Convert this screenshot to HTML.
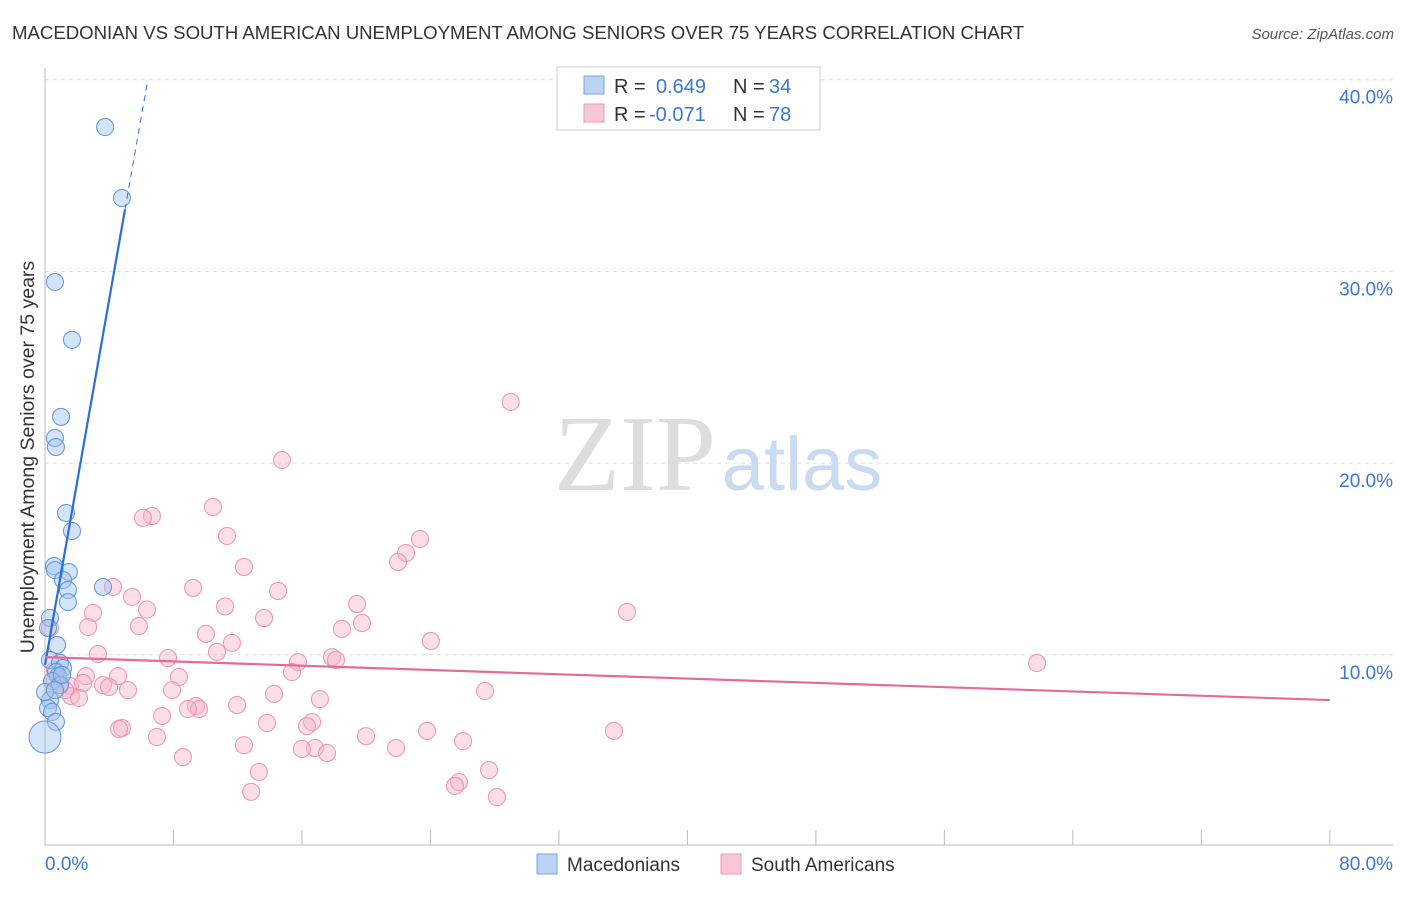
<!DOCTYPE html>
<html><head><meta charset="utf-8"><style>
body{margin:0;background:#fff;font-family:"Liberation Sans",sans-serif}
</style></head><body>
<svg width="1406" height="892" xmlns="http://www.w3.org/2000/svg">
<text x="12" y="39" font-size="18.6" fill="#333">MACEDONIAN VS SOUTH AMERICAN UNEMPLOYMENT AMONG SENIORS OVER 75 YEARS CORRELATION CHART</text>
<text x="1394" y="39" font-size="15" fill="#555" font-style="italic" text-anchor="end">Source: ZipAtlas.com</text>
<text transform="translate(34,457) rotate(-90)" font-size="19.5" fill="#333" text-anchor="middle">Unemployment Among Seniors over 75 years</text>
<g>
<text x="635" y="490" font-size="108" font-family="Liberation Serif,serif" fill="#ddd" text-anchor="middle">ZIP</text>
<text x="802" y="490" font-size="76" fill="#c9dbf2" text-anchor="middle">atlas</text>
</g>
<g id="grid"></g><g id="axes"></g><g id="marks"></g>
<g>
<rect x="557" y="67" width="263" height="63" fill="#fff" stroke="#ccc"/>
<rect x="584" y="76" width="20" height="18" fill="#b9d3f5" stroke="#7aa6e0"/>
<rect x="584" y="104" width="20" height="18" fill="#f9c6d6" stroke="#ea9ab4"/>
<text x="614" y="93" font-size="20" fill="#333">R =</text>
<text x="656" y="93" font-size="20" fill="#3a78d4">0.649</text>
<text x="733" y="93" font-size="20" fill="#333">N =</text>
<text x="769" y="93" font-size="20" fill="#3a78d4">34</text>
<text x="614" y="121" font-size="20" fill="#333">R =</text>
<text x="649" y="121" font-size="20" fill="#3a78d4">-0.071</text>
<text x="733" y="121" font-size="20" fill="#333">N =</text>
<text x="769" y="121" font-size="20" fill="#3a78d4">78</text>
</g>
<g>
<rect x="537" y="854" width="20" height="20" fill="#b9d3f5" stroke="#7aa6e0"/>
<text x="567" y="871" font-size="19" fill="#333">Macedonians</text>
<rect x="721" y="854" width="20" height="20" fill="#f9c6d6" stroke="#ea9ab4"/>
<text x="751" y="871" font-size="19" fill="#333">South Americans</text>
</g>
</svg>
<script>
const yTicks=[10,20,30,40];
const yTickLabels=["10.0%","20.0%","30.0%","40.0%"];
const xTickLabels=["0.0%","80.0%"];
const macX=[3.74,4.79,0.62,1.68,1.0,0.62,0.68,1.31,1.68,0.56,0.62,1.49,1.12,1.43,3.61,1.43,0.31,0.19,0.75,0.31,0.93,1.12,0.68,0.81,0.44,0.93,0.31,0.19,0.44,0.68,0,0,1.06,0.62];
const macY=[37.53,33.83,29.45,26.43,22.41,21.31,20.84,17.40,16.46,14.63,14.42,14.32,13.90,13.38,13.54,12.75,11.92,11.40,10.51,9.73,9.57,9.31,9.10,8.89,8.63,8.42,7.64,7.22,7.02,6.50,5.71,8.06,8.95,8.16];
const saX=[29.0,14.76,10.46,6.66,6.10,11.33,23.35,22.48,21.98,12.39,4.23,9.22,14.51,5.42,36.24,6.35,11.21,19.43,2.99,13.64,2.68,5.85,19.74,18.49,10.02,24.03,11.64,0.31,3.30,10.71,7.66,15.75,17.87,18.12,61.77,15.38,4.55,8.34,2.55,0.62,0.93,1.56,2.37,3.61,3.99,5.17,7.91,27.40,1.62,2.12,14.26,17.12,9.40,9.59,8.90,11.96,7.29,13.82,16.63,16.31,4.79,4.61,23.79,35.43,19.99,6.97,26.03,12.39,16.81,16.00,21.86,17.56,8.59,13.32,27.65,25.78,25.53,12.83,28.14,1.25,0.62];
const saY=[23.19,20.16,17.71,17.24,17.14,16.20,16.04,15.31,14.84,14.58,13.54,13.49,13.33,13.02,12.24,12.36,12.52,12.65,12.18,11.92,11.45,11.50,11.66,11.35,11.09,10.72,10.62,11.40,10.04,10.15,9.83,9.62,9.88,9.73,9.57,9.10,8.89,8.84,8.89,9.21,8.53,8.37,8.53,8.42,8.32,8.16,8.16,8.11,7.85,7.75,7.96,7.69,7.33,7.17,7.17,7.38,6.81,6.44,6.49,6.28,6.18,6.13,6.03,6.03,5.76,5.71,5.50,5.29,5.14,5.09,5.14,4.88,4.67,3.89,3.99,3.36,3.16,2.85,2.58,8.16,8.69];
const macTrend=[9.47,4.77];
const saTrend=[9.88,-0.028];
const NS="http://www.w3.org/2000/svg";
const X=v=>45+v*16.06, Y=v=>846.5-v*19.17;
function mk(p,t,a){const e=document.createElementNS(NS,t);for(const k in a)e.setAttribute(k,a[k]);document.getElementById(p).appendChild(e);return e;}
yTicks.forEach((t,i)=>{
 const l=mk('grid','line',{x1:45,x2:1393,y1:Y(t),y2:Y(t),stroke:'#ddd','stroke-dasharray':'4,4'});
 
 
 const tx=mk('grid','text',{x:1393,y:Y(t)+24,'font-size':19,fill:'#3a78d4','text-anchor':'end'});tx.textContent=yTickLabels[i];
 
 
});
const ax=mk('axes','path',{d:'M45,68V845H1393',fill:'none',stroke:'#bbb'});


for(let v=0;v<=80;v+=8){const t=mk('axes','line',{x1:X(v),x2:X(v),y1:830,y2:845,stroke:'#bbb'});
 
 }
[[0,'start',45],[80,'end',1393]].forEach((d,i)=>{const t=mk('axes','text',{x:d[2],y:870,'font-size':19,fill:'#3a78d4','text-anchor':d[1]});t.textContent=xTickLabels[i];
 
 });
saX.forEach((x,i)=>{const c=mk('marks','circle',{cx:X(x),cy:Y(saY[i]),r:8.5,fill:'rgba(247,182,202,0.45)',stroke:'#ec92ae','stroke-width':1});
 
 });
macX.forEach((x,i)=>{const c=mk('marks','circle',{cx:X(x),cy:Y(macY[i]),r:(i==30?16:8.5),fill:'rgba(160,195,240,0.45)',stroke:'#5f92dc','stroke-width':1});
 
 });
const x1=4.98,x2=6.4;
let l=mk('marks','line',{x1:X(0),y1:Y(macTrend[0]),x2:X(x1),y2:Y(macTrend[0]+macTrend[1]*x1),stroke:'#2a6fd6','stroke-width':2.2});


l=mk('marks','line',{x1:X(x1),y1:Y(macTrend[0]+macTrend[1]*x1),x2:X(x2),y2:Y(macTrend[0]+macTrend[1]*x2),stroke:'#2a6fd6','stroke-width':1,'stroke-dasharray':'6,5'});


l=mk('marks','line',{x1:X(0),y1:Y(saTrend[0]),x2:X(80),y2:Y(saTrend[0]+saTrend[1]*80),stroke:'#e8689a','stroke-width':2.2});


</script>
</body></html>
